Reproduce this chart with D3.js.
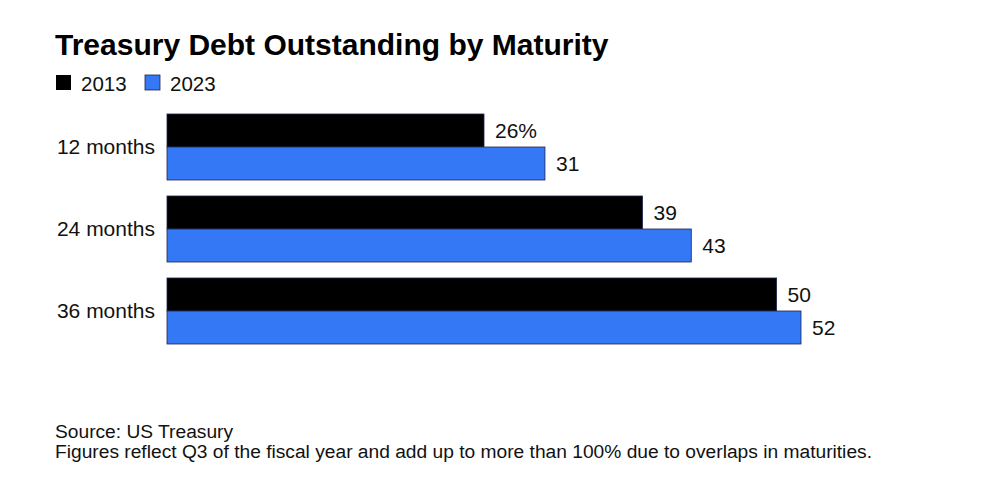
<!DOCTYPE html>
<html>
<head>
<meta charset="utf-8">
<script src="https://cdn.jsdelivr.net/npm/d3@7"></script>
<style>
  html, body { margin: 0; padding: 0; background: #ffffff; }
  svg { display: block; font-family: "Liberation Sans", Arial, sans-serif; }
</style>
</head>
<body>
<svg id="chart" width="986" height="487"></svg>
<script>
const categories = ["12 months", "24 months", "36 months"];
const seriesNames = ["2013", "2023"];
const values2013 = [26, 39, 50];
const values2023 = [31, 43, 52];
const valueLabels2013 = ["26%", "39", "50"];
const valueLabels2023 = ["31", "43", "52"];
const colors = ["#000000", "#3478f6"];

const title = "Treasury Debt Outstanding by Maturity";
const sourceLine = "Source: US Treasury";
const noteLine = "Figures reflect Q3 of the fiscal year and add up to more than 100% due to overlaps in maturities.";

const svg = d3.select("#chart");

const x = d3.scaleLinear().domain([0, 52]).range([167, 801]);
const y = d3.scaleBand().domain(categories).range([114, 344]).paddingInner(0.195).paddingOuter(0);
const ySub = d3.scaleBand().domain(seriesNames).range([0, y.bandwidth()]);

// Title
svg.append("text").attr("x", 55).attr("y", 55)
  .attr("font-size", 30).attr("font-weight", "bold").attr("fill", "#000")
  .text(title);

// Legend
const legend = svg.append("g");
let lx = 56;
seriesNames.forEach((s, i) => {
  legend.append("rect").attr("x", lx).attr("y", 75).attr("width", 15).attr("height", 15)
    .attr("fill", colors[i]).attr("stroke", "#1a2550").attr("stroke-width", i ? 0.8 : 0);
  legend.append("text").attr("x", lx + 25).attr("y", 90.5)
    .attr("font-size", 20.5).attr("fill", "#111").text(s);
  lx += 89;
});

const data = categories.map((c, i) => ({
  cat: c,
  items: [
    { s: seriesNames[0], v: values2013[i], label: valueLabels2013[i], color: colors[0] },
    { s: seriesNames[1], v: values2023[i], label: valueLabels2023[i], color: colors[1] }
  ]
}));

const groups = svg.append("g").selectAll("g").data(data).join("g")
  .attr("transform", d => `translate(0,${y(d.cat)})`);

groups.selectAll("rect").data(d => d.items).join("rect")
  .attr("x", x(0))
  .attr("y", d => ySub(d.s))
  .attr("width", d => x(d.v) - x(0))
  .attr("height", ySub.bandwidth())
  .attr("fill", d => d.color)
  .attr("stroke", "#1a2550")
  .attr("stroke-width", 0.8);

groups.selectAll("text.val").data(d => d.items).join("text")
  .attr("class", "val")
  .attr("x", d => x(d.v) + 11)
  .attr("y", d => ySub(d.s) + ySub.bandwidth() / 2)
  .attr("dy", "0.35em")
  .attr("font-size", 21).attr("fill", "#111")
  .text(d => d.label);

// Category axis labels
groups.append("text")
  .attr("x", 155)
  .attr("y", y.bandwidth() / 2)
  .attr("dy", "0.32em")
  .attr("text-anchor", "end")
  .attr("font-size", 21).attr("fill", "#111")
  .text(d => d.cat);

// Footer
svg.append("text").attr("x", 55).attr("y", 438).attr("font-size", 19.2).attr("fill", "#111").text(sourceLine);
svg.append("text").attr("x", 55).attr("y", 458).attr("font-size", 19.2).attr("fill", "#111").text(noteLine);
</script>
</body>
</html>
